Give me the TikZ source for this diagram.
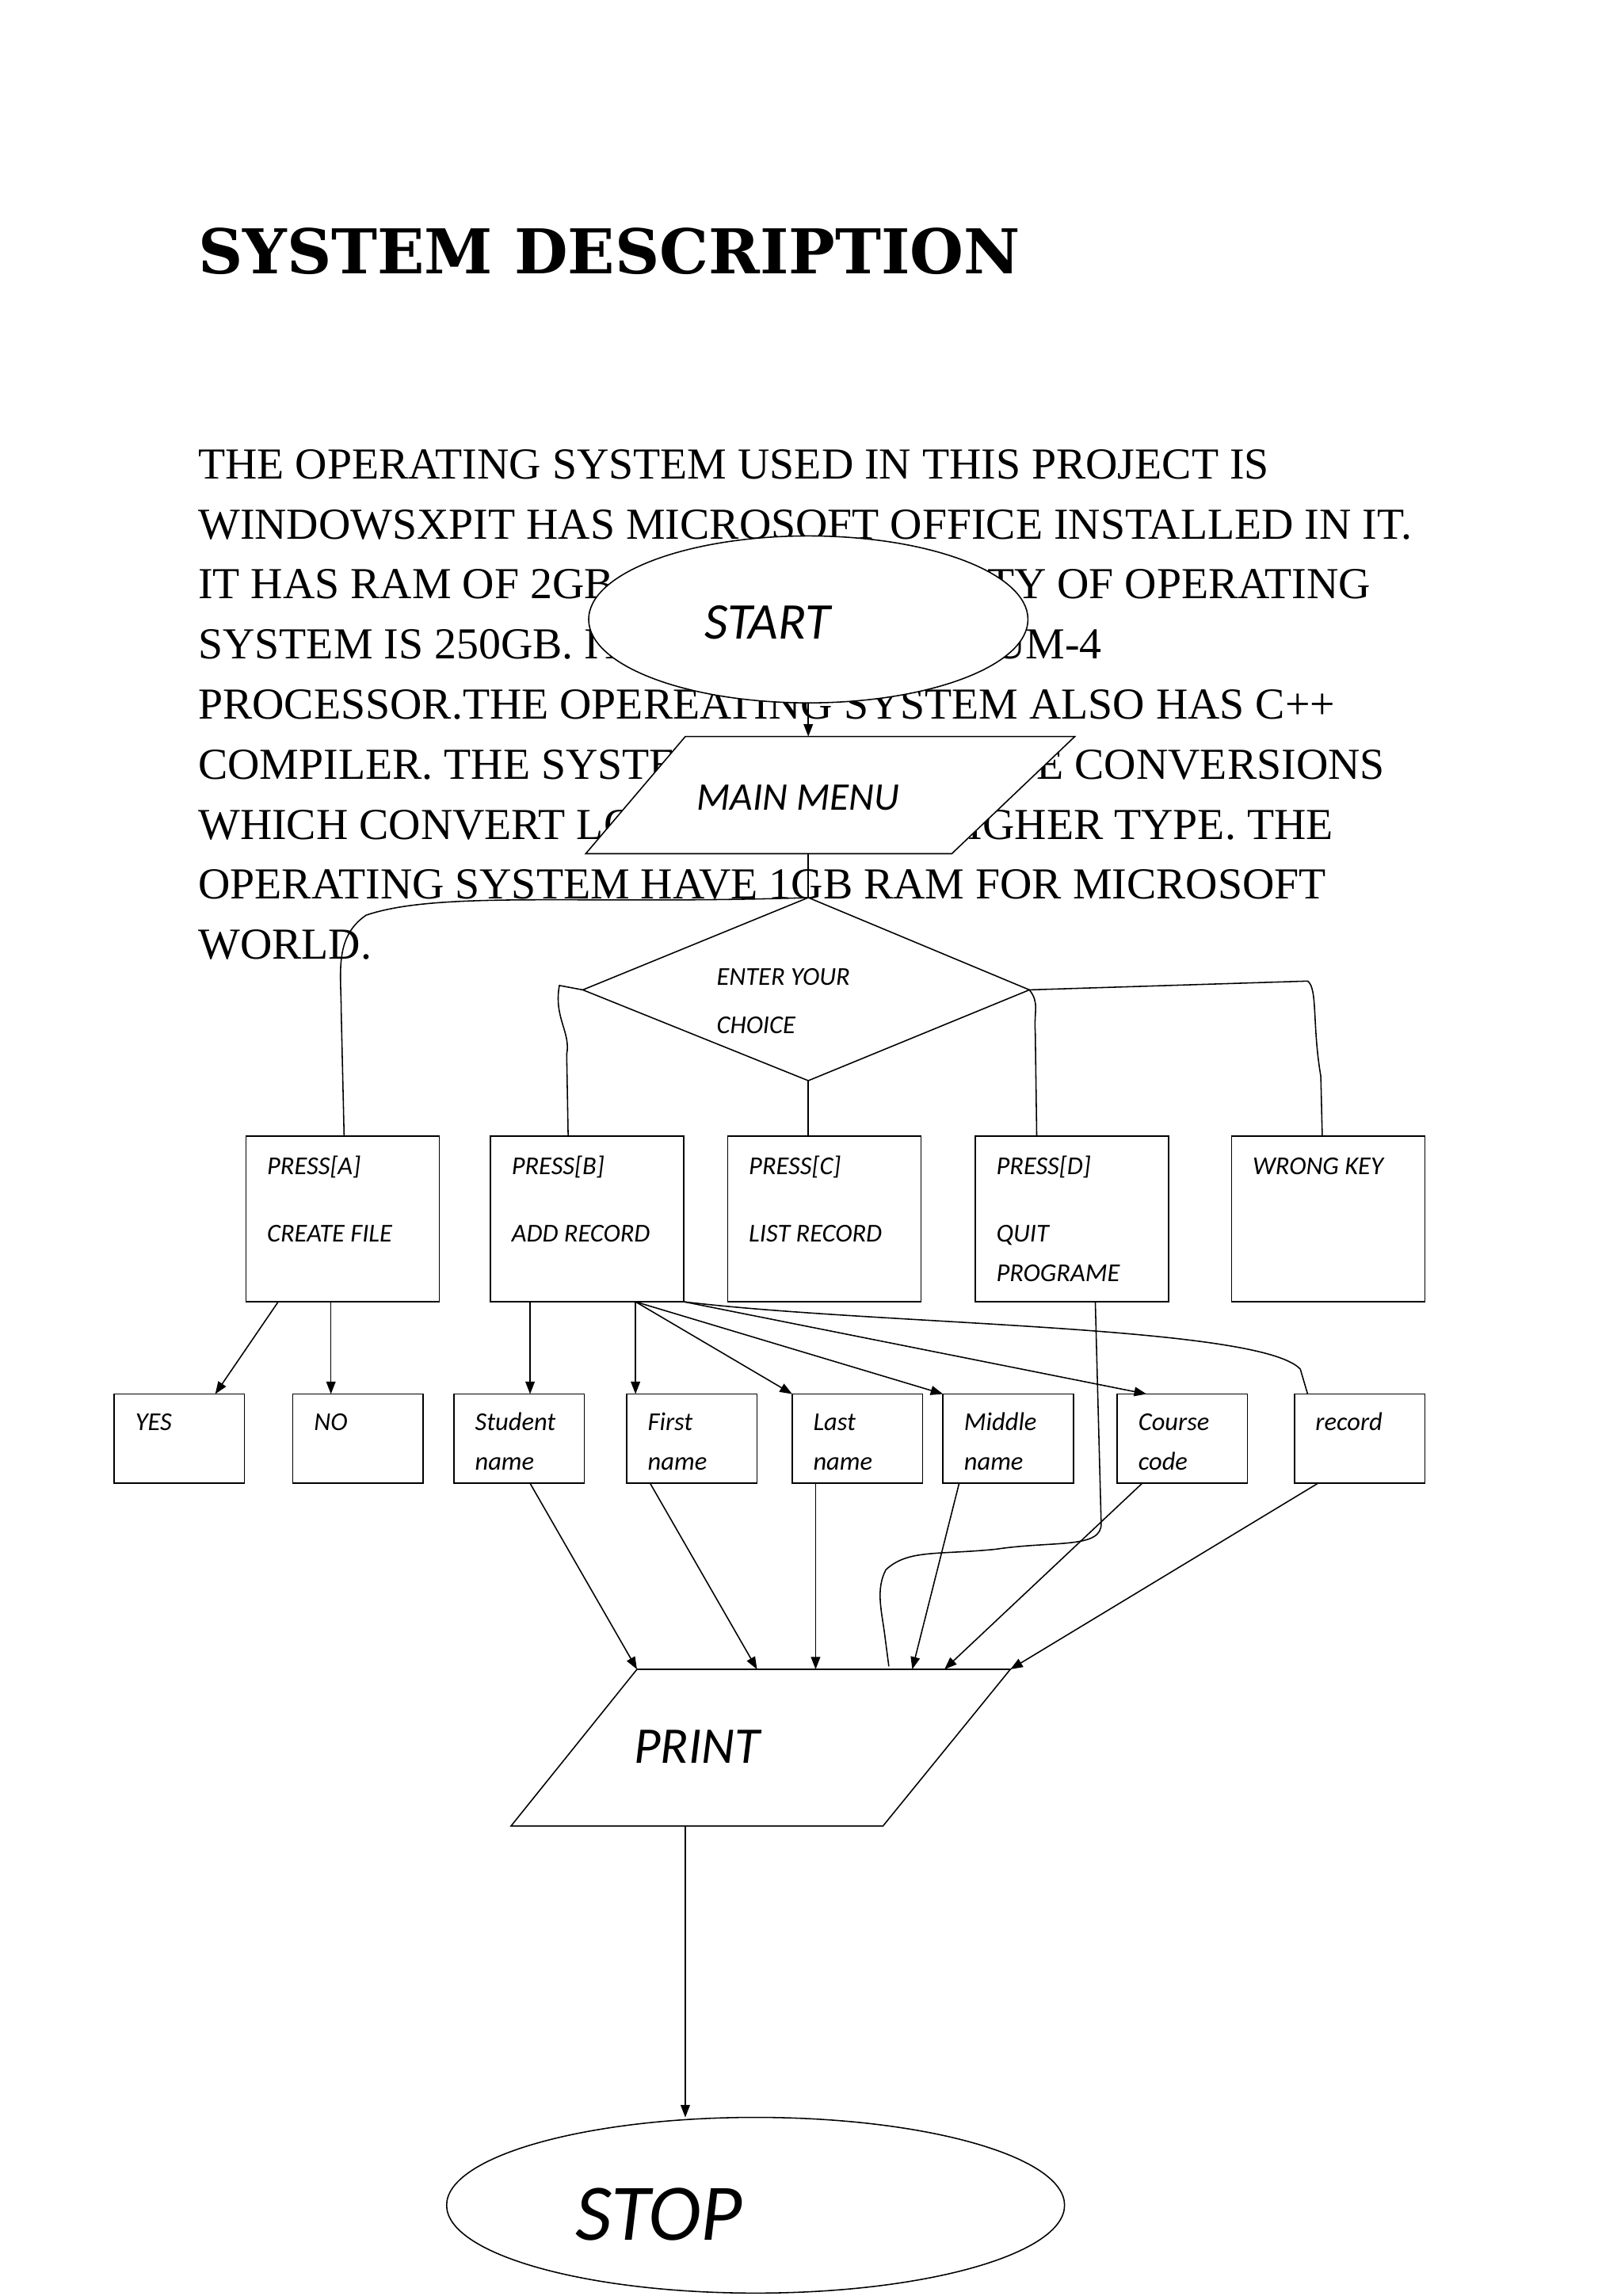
\documentclass[tikz,border=0pt]{standalone}
\usepackage{fontspec}
\setmainfont{Liberation Serif}
\newfontfamily\fc{Carlito}
\newfontfamily\ttl{DejaVu Serif}
\usetikzlibrary{shapes.geometric,arrows.meta}
\begin{document}
\begin{tikzpicture}[x=0.5mm,y=-0.5mm,line width=1.2pt,
  box/.style={draw,fill=white,line width=1.2pt},
  lbl/.style={font=\fc\itshape\fontsize{25}{28}\selectfont,anchor=base west,inner sep=0},
  arr/.style={-{Triangle[length=12pt,width=9pt]}},
  para/.style={font=\fontsize{43}{43}\selectfont,anchor=base west,inner sep=0}]
\useasboundingbox (0,0) rectangle (1107,1568);
\fill[white] (0,0) rectangle (1107,1568);
\node[font=\ttl\bfseries\fontsize{60}{60}\selectfont,anchor=base west,inner sep=0] (title) at (135,187) {SYSTEM DESCRIPTION};
\node[para] (p1) at (135,327) {THE OPERATING SYSTEM USED IN THIS PROJECT IS};
\node[para] (p2) at (135,368) {WINDOWSXPIT HAS MICROSOFT OFFICE INSTALLED IN IT.};
\node[para] (p3) at (135,409) {IT HAS RAM OF 2GB AND THE CAPACITY OF OPERATING};
\node[para] (p4) at (135,450) {SYSTEM IS 250GB. IT CONTAINS PENTIUM-4};
\node[para] (p5) at (135,491) {PROCESSOR.THE OPEREATING SYSTEM ALSO HAS C++};
\node[para] (p6) at (135,532) {COMPILER. THE SYSTEM ALSO HAS TYPE CONVERSIONS};
\node[para] (p7) at (135,573) {WHICH CONVERT LOWER TYPE TO HIGHER TYPE. THE};
\node[para] (p8) at (135,614) {OPERATING SYSTEM HAVE 1GB RAM FOR MICROSOFT};
\node[para] (p9) at (135,655) {WORLD.};
% start
\draw[box] (552,423) ellipse (150 and 57);
\node[font=\fc\itshape\fontsize{50}{50}\selectfont] (start) at (524,425) {START};
\coordinate (sb) at (552,480);
\coordinate (mt) at (552,503);
\draw[box] (468,503) -- (734,503) -- (650,583) -- (400,583) -- cycle;
\node[font=\fc\itshape\fontsize{38}{38}\selectfont] (menu) at (545,545) {MAIN MENU};
\draw[arr] (sb) -- (mt);
\coordinate (mb) at (552,583);
\coordinate (dt) at (552,613);
\draw (mb) -- (dt);
% diamond
\draw[box] (552,613) -- (703,676) -- (552,738) -- (398,676) -- cycle;
\coordinate (dl) at (398,676); \coordinate (dr) at (703,676); \coordinate (db) at (552,738);
\node[lbl] (ch1) at (489,673) {ENTER YOUR};
\node[lbl] (ch2) at (489,706) {CHOICE};
% boxes
\foreach \n/\x in {A/168,B/335,C/497,D/666,W/841}{\draw[box] (\x,776) rectangle ++(132,113);}
\node[lbl] (a1) at (182,802) {PRESS[A]}; \node[lbl] (a2) at (182,848) {CREATE FILE};
\node[lbl] (b1) at (349,802) {PRESS[B]}; \node[lbl] (b2) at (349,848) {ADD RECORD};
\node[lbl] (c1) at (511,802) {PRESS[C]}; \node[lbl] (c2) at (511,848) {LIST RECORD};
\node[lbl] (d1) at (680,802) {PRESS[D]}; \node[lbl] (d2) at (680,848) {QUIT}; \node[lbl] (d3) at (680,875) {PROGRAME};
\node[lbl] (w1) at (855,802) {WRONG KEY};
% choice connectors
\draw (dt) .. controls (400,618) and (300,608) .. (250,625) .. controls (228,640) and (233,665) .. (233,690) -- (235,776);
\draw (dl) -- (382,673) .. controls (378,695) and (390,705) .. (387,720) -- (388,776);
\draw (db) -- (552,776);
\draw (dr) .. controls (710,685) and (706,690) .. (707,705) -- (708,776);
\draw (dr) -- (893,670) .. controls (900,675) and (896,700) .. (902,735) -- (903,776);
% second row
\foreach \x/\w in {78/89,200/89,310/89,428/89,541/89,644/89,763/89,884/89}{\draw[box] (\x,952) rectangle ++(\w,61);}
\node[lbl] (yes) at (92,977) {YES};
\node[lbl] (no) at (214,977) {NO};
\node[lbl] (s1) at (324,977) {Student}; \node[lbl] (s2) at (324,1004) {name};
\node[lbl] (f1) at (442,977) {First}; \node[lbl] (f2) at (442,1004) {name};
\node[lbl] (l1) at (555,977) {Last}; \node[lbl] (l2) at (555,1004) {name};
\node[lbl] (m1) at (658,977) {Middle}; \node[lbl] (m2) at (658,1004) {name};
\node[lbl] (cc1) at (777,977) {Course}; \node[lbl] (cc2) at (777,1004) {code};
\node[lbl] (r1) at (898,977) {record};
\draw[arr] (190,889) -- (147,952);
\draw[arr] (226,889) -- (226,952);
\draw[arr] (362,889) -- (362,952);
\draw[arr] (434,889) -- (434,952);
\draw[arr] (434,889) -- (541,952);
\draw[arr] (434,889) -- (644,952);
\draw[arr] (467,889) -- (783,952);
\draw (467,889) .. controls (600,905) and (860,905) .. (888,935) -- (893,952);
% D line
\draw (748,889) -- (752,1040) .. controls (753,1058) and (720,1052) .. (680,1058) .. controls (640,1062) and (620,1058) .. (605,1072) .. controls (598,1085) and (602,1100) .. (604,1115) -- (607,1138);
% print
\draw[box] (435,1140) -- (690,1140) -- (603,1247) -- (349,1247) -- cycle;
\node[font=\fc\itshape\fontsize{50}{50}\selectfont] (print) at (476,1193) {PRINT};
\draw[arr] (362,1013) -- (435,1140);
\draw[arr] (444,1013) -- (517,1140);
\draw[arr] (557,1013) -- (557,1140);
\draw[arr] (655,1013) -- (623,1140);
\draw[arr] (780,1013) -- (645,1140);
\draw[arr] (900,1013) -- (690,1140);
% stop
\draw[box] (516,1506) ellipse (211 and 60);
\node[font=\fc\itshape\fontsize{78}{78}\selectfont] (stop) at (450,1512) {STOP};
\draw[arr] (468,1247) -- (468,1446);
\end{tikzpicture}
\end{document}
